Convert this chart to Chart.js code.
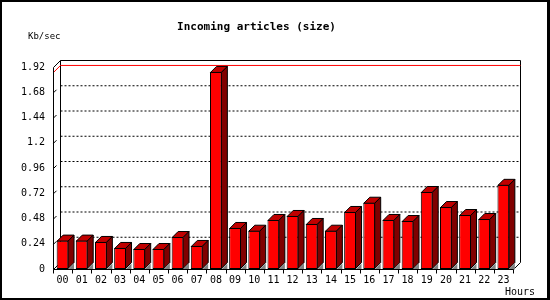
<!DOCTYPE html>
<html>
<head>
<meta charset="utf-8">
<script src="https://cdn.jsdelivr.net/npm/chart.js@4/dist/chart.umd.min.js"></script>
<style>
  body { margin: 0; background: #fff; }
</style>
</head>
<body>
<canvas id="incoming" width="550" height="300"></canvas>
<script>
// datos
const horas = ["00", "01", "02", "03", "04", "05", "06", "07", "08", "09", "10", "11",
  "12", "13", "14", "15", "16", "17", "18", "19", "20", "21", "22", "23"];
const kb_sec = [0.27, 0.27, 0.257, 0.2, 0.19, 0.19, 0.304, 0.219, 1.873, 0.39, 0.364, 0.466,
  0.504, 0.428, 0.364, 0.542, 0.63, 0.466, 0.456, 0.732, 0.589, 0.513, 0.475, 0.8];
const valores_y = [0, 0.24, 0.48, 0.72, 0.96, 1.2, 1.44, 1.68, 1.92];
const etiquetas_y = ["0", "0.24", "0.48", "0.72", "0.96", "1.2", "1.44", "1.68", "1.92"];

const prof = 7; // profundidad del marco
const prof_barra = 6; // profundidad de las barras
const fuente = "DejaVu Sans Mono";

const plugin_3d = {
  id: "efecto3d",
  beforeDraw: (chart) => {
    const ctx = chart.ctx;
    ctx.save();
    ctx.fillStyle = "#000";
    ctx.fillRect(0, 0, 550, 300);
    ctx.fillStyle = "#fff";
    ctx.fillRect(2, 2, 545, 296);
    ctx.restore();
  },
  beforeDatasetsDraw: (chart) => {
    const ctx = chart.ctx;
    const a = chart.chartArea;
    const y = chart.scales.y;
    const L = a.left + 0.5, R = a.right + 0.5, B = a.bottom + 0.5;
    const T = y.getPixelForValue(valores_y[valores_y.length - 1]) + 0.5;
    ctx.save();
    ctx.lineWidth = 1;
    ctx.strokeStyle = "#000";

    // lineas punteadas en el fondo
    ctx.setLineDash([2, 2]);
    valores_y.slice(1, -1).forEach((v) => {
      const py = y.getPixelForValue(v) + 0.5 - prof;
      ctx.beginPath();
      ctx.moveTo(L + prof, py);
      ctx.lineTo(R + prof, py);
      ctx.stroke();
    });
    ctx.setLineDash([]);

    // marcas diagonales en la pared izquierda
    valores_y.slice(1, -1).forEach((v) => {
      const py = y.getPixelForValue(v) + 0.5;
      ctx.beginPath();
      ctx.moveTo(L, py);
      ctx.lineTo(L + 3, py - 3);
      ctx.stroke();
    });

    // marco del fondo
    ctx.beginPath();
    ctx.moveTo(L, T);
    ctx.lineTo(L + prof, T - prof);
    ctx.lineTo(R + prof, T - prof);
    ctx.lineTo(R + prof, B - prof);
    ctx.lineTo(R, B);
    ctx.moveTo(L + prof, T - prof);
    ctx.lineTo(L + prof, B - prof);
    ctx.lineTo(L, B);
    ctx.stroke();

    // linea roja del maximo
    const maxY = y.getPixelForValue(Math.max(...kb_sec)) + 0.5;
    ctx.strokeStyle = "#ff0000";
    ctx.beginPath();
    ctx.moveTo(L, maxY);
    ctx.lineTo(L + prof, maxY - prof);
    ctx.lineTo(R + prof, maxY - prof);
    ctx.stroke();
    ctx.restore();
  },
  afterDatasetsDraw: (chart) => {
    const ctx = chart.ctx;
    const a = chart.chartArea;
    const y = chart.scales.y;
    const L = a.left + 0.5, R = a.right + 0.5, B = a.bottom + 0.5;
    const T = y.getPixelForValue(valores_y[valores_y.length - 1]) + 0.5;
    const d = prof_barra;
    ctx.save();
    ctx.lineWidth = 1;
    ctx.strokeStyle = "#000";

    chart.getDatasetMeta(0).data.forEach((bar) => {
      const x1 = bar.x - bar.width / 2 + 0.5;
      const x2 = bar.x + bar.width / 2 - 0.5;
      const yt = bar.y + 0.5;
      const yb = bar.base - 0.5;

      // sombra gris en el piso
      ctx.fillStyle = "#808080";
      ctx.beginPath();
      ctx.moveTo(x2, yb + 1);
      ctx.lineTo(x2 + d, yb + 1 - d);
      ctx.lineTo(x2 + d, yb + 1);
      ctx.closePath();
      ctx.fill();

      // cara superior
      ctx.fillStyle = "#c00000";
      ctx.beginPath();
      ctx.moveTo(x1, yt);
      ctx.lineTo(x1 + d, yt - d);
      ctx.lineTo(x2 + d, yt - d);
      ctx.lineTo(x2, yt);
      ctx.closePath();
      ctx.fill();
      ctx.stroke();

      // cara lateral
      ctx.fillStyle = "#800000";
      ctx.beginPath();
      ctx.moveTo(x2, yt);
      ctx.lineTo(x2 + d, yt - d);
      ctx.lineTo(x2 + d, yb - d);
      ctx.lineTo(x2, yb);
      ctx.closePath();
      ctx.fill();
      ctx.stroke();
    });

    // ejes del frente
    ctx.beginPath();
    ctx.moveTo(L, T);
    ctx.lineTo(L, B);
    ctx.lineTo(R, B);
    ctx.stroke();
    for (let i = 0; i <= horas.length; i++) {
      const px = Math.round(a.left + (a.right - a.left) * i / horas.length) + 0.5;
      ctx.beginPath();
      ctx.moveTo(px, B);
      ctx.lineTo(px, B + 4);
      ctx.stroke();
    }
    ctx.restore();
  },
  afterDraw: (chart) => {
    const ctx = chart.ctx;
    ctx.save();
    ctx.fillStyle = "#000";
    ctx.textBaseline = "middle";
    ctx.textAlign = "left";
    ctx.font = "9px '" + fuente + "'";
    ctx.fillText("Kb/sec", 28, 37);
    ctx.font = "10px '" + fuente + "'";
    ctx.fillText("Hours", 505, 292);
    ctx.restore();
  },
};

const ctx = document.getElementById("incoming").getContext("2d");
const chart_incoming = new Chart(ctx, {
  type: "bar",
  data: {
    labels: horas,
    datasets: [
      {
        label: "Kb/sec",
        data: kb_sec,
        backgroundColor: "#ff0000",
        borderColor: "#000",
        borderWidth: 1,
        borderSkipped: false,
        barPercentage: 0.62,
        categoryPercentage: 1,
      },
    ],
  },
  options: {
    responsive: false,
    animation: false,
    layout: {
      padding: { left: 0, right: 37, top: 0, bottom: 0 },
    },
    plugins: {
      legend: { display: false },
      tooltip: { enabled: false },
      title: {
        display: true,
        text: "Incoming articles (size)",
        color: "#000",
        font: { family: fuente, size: 11, weight: "bold", lineHeight: 1 },
        padding: { top: 22, bottom: 34 },
      },
    },
    scales: {
      x: {
        grid: { display: false },
        border: { display: false },
        ticks: {
          color: "#000",
          font: { family: fuente, size: 10 },
          padding: -3,
          maxRotation: 0,
          autoSkip: false,
        },
        afterFit: (scale) => {
          scale.height = 31;
        },
      },
      y: {
        min: 0,
        max: 1.92,
        grid: { display: false },
        border: { display: false },
        afterBuildTicks: (scale) => {
          scale.ticks = valores_y.map((v) => ({ value: v }));
        },
        ticks: {
          color: "#000",
          font: { family: fuente, size: 10 },
          padding: 0,
          callback: function (value, index) {
            return etiquetas_y[index];
          },
        },
        afterFit: (scale) => {
          scale.width = 53;
        },
      },
    },
  },
  plugins: [plugin_3d],
});
</script>
</body>
</html>
